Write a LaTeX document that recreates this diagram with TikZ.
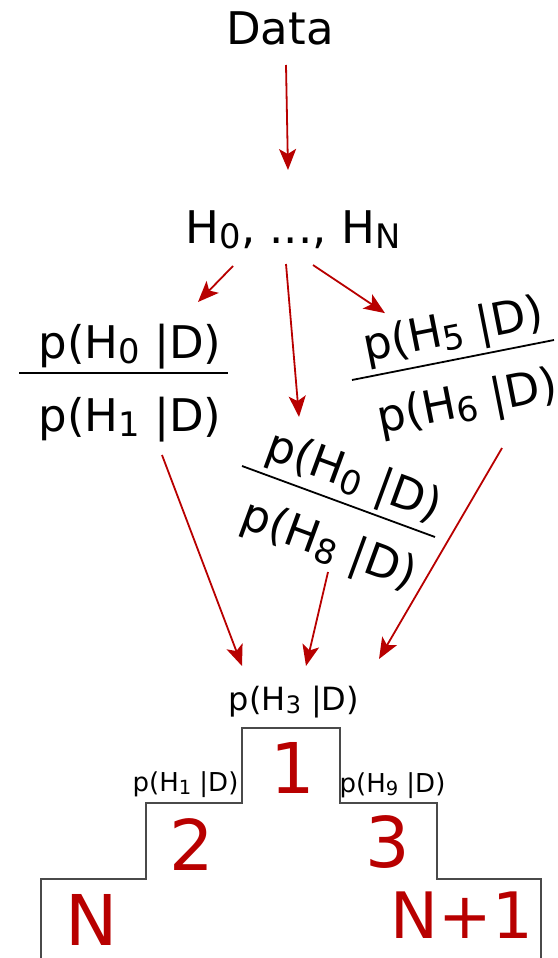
\documentclass[tikz,border=0pt]{standalone}
\usepackage{fontspec}
\setmainfont{DejaVu Sans}
\usepackage{tikz}
\usetikzlibrary{arrows.meta,positioning}
\usepackage{xcolor}
\definecolor{RankRed}{HTML}{B80000}
\definecolor{StepGray}{HTML}{4A4A4A}
\definecolor{InkBlack}{HTML}{000000}

\newcommand{\lowidx}[1]{\raisebox{-0.12em}{\scalebox{0.75}{#1}}}
\newcommand{\post}[1]{p(H\lowidx{#1} |D)}

\begin{document}
\begin{tikzpicture}[x=1pt, y=1pt,
    txt/.style={inner sep=0pt, anchor=base, text=InkBlack},
    big/.style={txt, font=\fontsize{45}{54}\selectfont},
    mid/.style={txt, font=\fontsize{32}{38}\selectfont},
    small/.style={txt, font=\fontsize{26}{31}\selectfont},
    rank/.style={inner sep=0pt, anchor=base, text=RankRed, font=\fontsize{70}{84}\selectfont},
    bar/.style={draw=InkBlack, line width=1.8pt},
    podium/.style={draw=StepGray, line width=2.4pt},
    arr/.style={-{Stealth[length=21pt, width=17pt, inset=5pt]}, draw=RankRed, line width=1.8pt}
  ]
    \useasboundingbox (0,0) rectangle (557,-958);

    % Data and hypotheses
    \node[big] (data) at (280,-45) {Data};
    \node[big] (hyp) at (293,-243) {H\lowidx{0}, ..., H\lowidx{N}};

    % Ratio on the left
    \begin{scope}[shift={(123.5,-373)}]
      \draw[bar] (-104.5,0) -- (104.5,0);
      \node[big] (fracLnum) at (6.5,15) {\post{0}};
      \node[big] (fracLden) at (6.5,-58) {\post{1}};
    \end{scope}

    % Ratio in the middle
    \begin{scope}[shift={(338.5,-501.5)}, rotate=-20.2, transform shape]
      \draw[bar] (-102.8,0) -- (102.8,0);
      \node[big] (fracMnum) at (6,15) {\post{0}};
      \node[big] (fracMden) at (6,-58) {\post{8}};
    \end{scope}

    % Ratio on the right
    \begin{scope}[shift={(453,-360)}, rotate=11.2, transform shape]
      \draw[bar] (-103,0) -- (103,0);
      \node[big] (fracRnum) at (6,15) {\post{5}};
      \node[big] (fracRden) at (6,-58) {\post{6}};
    \end{scope}

    % Ranking podium
    \draw[podium] (41,-958) -- (41,-879) -- (146,-879) -- (146,-803) -- (242,-803)
      -- (242,-728) -- (340,-728) -- (340,-803) -- (437,-803) -- (437,-879)
      -- (541,-879) -- (541,-958);
    \node[mid] (pthree) at (294,-710) {\post{3}};
    \node[small] (pone) at (185.5,-791) {\post{1}};
    \node[small] (pnine) at (392.5,-792) {\post{9}};
    \node[rank] (first) at (293,-793) {1};
    \node[rank] (second) at (192,-870) {2};
    \node[rank] (third) at (388,-867) {3};
    \node[rank] (lastN) at (92,-945) {N};
    \node[rank, font=\fontsize{64}{76}\selectfont] (lastNone) at (462,-938) {N+1};

    \draw[arr] ([shift={(6,-20)}]data.base) -- ([shift={(-5,73)}]hyp.base);
    \draw[arr] ([shift={(-60,-23)}]hyp.base) -- ([shift={(68,56)}]fracLnum.base);
    \draw[arr] ([shift={(-7,-21)}]hyp.base) -- ([shift={(-50.3,72.5)}]fracMnum.base);
    \draw[arr] ([shift={(20,-22)}]hyp.base) -- ([shift={(-71,31)}]fracRnum.base);
    \draw[arr] ([shift={(32,-24)}]fracLden.base) -- ([shift={(-52,44)}]pthree.base);
    \draw[arr] ([shift={(3.9,-14)}]fracMden.base) -- ([shift={(12,44)}]pthree.base);
    \draw[arr] ([shift={(31.85,-32.3)}]fracRden.base) -- ([shift={(85,51)}]pthree.base);
  \end{tikzpicture}
\end{document}
